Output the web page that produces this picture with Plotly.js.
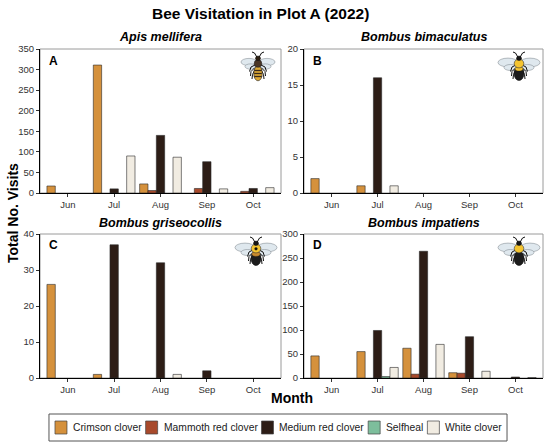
<!DOCTYPE html>
<html>
<head>
<meta charset="utf-8">
<script src="https://cdn.plot.ly/plotly-3.0.1.min.js"></script>
<style>html,body{margin:0;padding:0;background:#fff;}#chart{width:550px;height:445px;}</style>
</head>
<body>
<div id="chart"></div>
<script>
// ---------- data ----------
const months = ['Jun', 'Jul', 'Aug', 'Sep', 'Oct'];
const flowers = ['Crimson clover', 'Mammoth red clover', 'Medium red clover', 'Selfheal', 'White clover'];
const flowerColors = ['#D5913C', '#A84A2C', '#2D1D16', '#7DBE9C', '#F1ECE2'];

const panelTitles = ['Apis mellifera', 'Bombus bimaculatus', 'Bombus griseocollis', 'Bombus impatiens'];
const panelLetters = ['A', 'B', 'C', 'D'];
const yMax = [350, 20, 40, 300];
const yStep = [50, 5, 10, 50];

// Apis mellifera
const apisCrimson  = [17, 311, 22, null, null];
const apisMammoth  = [null, null, 6, 11, 4];
const apisMedium   = [null, 10, 140, 76, 11];
const apisSelfheal = [null, null, null, null, null];
const apisWhite    = [null, 90, 87, 10, 13];

// Bombus bimaculatus
const bimCrimson  = [2, 1, null, null, null];
const bimMammoth  = [null, null, null, null, null];
const bimMedium   = [null, 16, null, null, null];
const bimSelfheal = [null, null, null, null, null];
const bimWhite    = [null, 1, null, null, null];

// Bombus griseocollis
const griCrimson  = [26, 1, null, null, null];
const griMammoth  = [null, null, null, null, null];
const griMedium   = [null, 37, 32, 2, null];
const griSelfheal = [null, null, null, null, null];
const griWhite    = [null, null, 1, null, null];

// Bombus impatiens
const impCrimson  = [46, 55, 62, 11, null];
const impMammoth  = [null, null, 8, 10, null];
const impMedium   = [null, 99, 264, 86, 2];
const impSelfheal = [null, 3, null, null, null];
const impWhite    = [null, 22, 70, 14, 1];

const panelSeries = [
  [apisCrimson, apisMammoth, apisMedium, apisSelfheal, apisWhite],
  [bimCrimson, bimMammoth, bimMedium, bimSelfheal, bimWhite],
  [griCrimson, griMammoth, griMedium, griSelfheal, griWhite],
  [impCrimson, impMammoth, impMedium, impSelfheal, impWhite]
];

// ---------- layout helpers (pixels -> paper) ----------
const W = 550, H = 445;
const px = v => v / W;
const py = v => 1 - v / H;
const FONT = 'Liberation Sans, Arial, sans-serif';

// panel boxes in pixels [left, right, top, bottom]
const boxes = [
  [40, 281, 49, 193],
  [304, 543, 49, 193],
  [40, 281, 234, 378],
  [304, 543, 234, 378]
];

const traces = [];
const layout = {
  width: W, height: H,
  margin: {l: 0, r: 0, t: 0, b: 0},
  paper_bgcolor: '#ffffff',
  plot_bgcolor: 'rgba(0,0,0,0)',
  barmode: 'group',
  bargap: 0.1,
  bargroupgap: 0,
  showlegend: false,
  annotations: [],
  shapes: []
};

panelSeries.forEach((series, p) => {
  const sfx = p === 0 ? '' : String(p + 1);
  const b = boxes[p];
  series.forEach((vals, f) => {
    traces.push({
      type: 'bar',
      name: flowers[f],
      x: months,
      y: vals,
      xaxis: 'x' + sfx,
      yaxis: 'y' + sfx,
      marker: {color: flowerColors[f], line: {color: '#2a2a2a', width: 0.6}},
      showlegend: false,
      hoverinfo: 'x+y+name'
    });
  });
  layout['xaxis' + sfx] = {
    domain: [px(b[0]), px(b[1])],
    anchor: 'y' + sfx,
    type: 'category',
    categoryorder: 'array',
    categoryarray: months,
    range: [-0.6, 4.6],
    showline: true, linecolor: '#000', linewidth: 1,
    ticks: 'outside', ticklen: 3, tickcolor: '#333', tickwidth: 1,
    tickfont: {family: FONT, size: 9.5, color: '#333'},
    showgrid: false, zeroline: false, fixedrange: true
  };
  layout['yaxis' + sfx] = {
    domain: [py(b[3]), py(b[2])],
    anchor: 'x' + sfx,
    range: [0, yMax[p]],
    dtick: yStep[p], tick0: 0,
    showline: true, linecolor: '#000', linewidth: 1,
    ticks: 'outside', ticklen: 3, tickcolor: '#333', tickwidth: 1,
    tickfont: {family: FONT, size: 9.5, color: '#333'},
    showgrid: false, zeroline: false, fixedrange: true
  };
  // panel border
  layout.shapes.push({
    type: 'rect', xref: 'paper', yref: 'paper', layer: 'below',
    x0: px(b[0]), x1: px(b[1]), y0: py(b[3]), y1: py(b[2]),
    line: {color: '#9a9a9a', width: 1}, fillcolor: 'rgba(0,0,0,0)'
  });
  // panel title
  layout.annotations.push({
    xref: 'paper', yref: 'paper', x: px((b[0] + b[1]) / 2), y: py(b[2] - 11.5),
    xanchor: 'center', yanchor: 'middle', showarrow: false,
    text: '<b><i>' + panelTitles[p] + '</i></b>',
    font: {family: FONT, size: 12.5, color: '#000'}
  });
  // panel letter
  layout.annotations.push({
    xref: 'paper', yref: 'paper', x: px(b[0] + 7), y: py(b[2] + 11.5),
    xanchor: 'left', yanchor: 'middle', showarrow: false,
    text: '<b>' + panelLetters[p] + '</b>',
    font: {family: FONT, size: 12, color: '#000'}
  });
});

// ---------- bee icons (decorative) ----------
function ell(cx, cy, rx, ry, fill, line, lw) {
  return {type: 'circle', xref: 'paper', yref: 'paper', layer: 'above',
    x0: px(cx - rx), x1: px(cx + rx), y0: py(cy + ry), y1: py(cy - ry),
    fillcolor: fill, line: {color: line, width: lw}};
}
function poly(pts, color, lw) {
  const d = pts.map((q, i) => (i ? 'L' : 'M') + px(q[0]) + ',' + py(q[1])).join(' ');
  return {type: 'path', xref: 'paper', yref: 'paper', layer: 'above', path: d,
    line: {color: color, width: lw}};
}
function bee(cx, top, kind) {
  const s = [];
  const y = v => top + v;
  const honey = kind === 'honey';
  // wings
  const wf = '#dfe8ee', wl = '#8a9298';
  if (honey) {
    s.push(ell(cx - 9, y(10), 8, 3.6, wf, wl, 0.6));
    s.push(ell(cx + 9, y(10), 8, 3.6, wf, wl, 0.6));
    s.push(ell(cx - 7.5, y(14.5), 5.5, 2.6, wf, wl, 0.6));
    s.push(ell(cx + 7.5, y(14.5), 5.5, 2.6, wf, wl, 0.6));
  } else {
    s.push(ell(cx - 11, y(10.5), 10, 4.4, wf, wl, 0.6));
    s.push(ell(cx + 11, y(10.5), 10, 4.4, wf, wl, 0.6));
    s.push(ell(cx - 8.5, y(15.5), 6.5, 3, wf, wl, 0.6));
    s.push(ell(cx + 8.5, y(15.5), 6.5, 3, wf, wl, 0.6));
  }
  // legs and antennae
  [-1, 1].forEach(sg => {
    s.push(poly([[cx + sg * 3, y(13)], [cx + sg * 7, y(15)], [cx + sg * 8.5, y(19.5)]], '#111', 1));
    s.push(poly([[cx + sg * 3, y(15.5)], [cx + sg * 7, y(19.5)], [cx + sg * 7.5, y(24)]], '#111', 1));
    s.push(poly([[cx + sg * 3, y(17.5)], [cx + sg * 5.5, y(22.5)], [cx + sg * 6, y(27)]], '#111', 1));
    s.push(poly([[cx + sg * 1.2, y(5)], [cx + sg * 3.5, y(1)], [cx + sg * 6, y(0)]], '#111', 1));
  });
  // abdomen
  if (honey) {
    s.push(ell(cx, y(21.5), 4.3, 7.3, '#DDA936', '#222', 0.6));
    [18.5, 21.5, 24.5].forEach(v => s.push(poly([[cx - 3.8, y(v)], [cx + 3.8, y(v)]], '#3a2a1a', 1.3)));
  } else if (kind === 'bim') {
    s.push(ell(cx, y(21.5), 5, 7, '#1c1c1c', '#111', 0.6));
    s.push(ell(cx, y(16.8), 4, 2.3, '#F4C430', '#111', 0.4));
  } else if (kind === 'gri') {
    s.push(ell(cx, y(21.5), 5, 7, '#1c1c1c', '#111', 0.6));
    s.push(ell(cx, y(17), 4.2, 2.4, '#C98A2E', '#111', 0.4));
  } else {
    s.push(ell(cx, y(21.5), 5, 7, '#1c1c1c', '#111', 0.6));
  }
  // thorax
  if (honey) {
    s.push(ell(cx, y(11.5), 3.8, 3.8, '#4a3626', '#222', 0.6));
  } else {
    s.push(ell(cx, y(11.5), 4.8, 4.4, '#F4C430', '#333', 0.6));
    if (kind === 'gri') s.push(ell(cx, y(11.8), 1.4, 1.4, '#111', '#111', 0.3));
  }
  // head
  s.push(ell(cx, y(6.3), 2.5, 2.3, honey ? '#2d2013' : '#151515', '#111', 0.5));
  return s;
}
layout.shapes.push(...bee(258, 52, 'honey'));
layout.shapes.push(...bee(519, 52, 'bim'));
layout.shapes.push(...bee(256, 237, 'gri'));
layout.shapes.push(...bee(519, 237, 'imp'));

// ---------- global titles ----------
layout.annotations.push({
  xref: 'paper', yref: 'paper', x: px(260), y: py(14), xanchor: 'center', yanchor: 'middle',
  showarrow: false, text: '<b>Bee Visitation in Plot A (2022)</b>',
  font: {family: FONT, size: 15.5, color: '#000'}
});
layout.annotations.push({
  xref: 'paper', yref: 'paper', x: px(13), y: py(213), xanchor: 'center', yanchor: 'middle',
  showarrow: false, textangle: -90, text: '<b>Total No. Visits</b>',
  font: {family: FONT, size: 14, color: '#000'}
});
layout.annotations.push({
  xref: 'paper', yref: 'paper', x: px(292), y: py(398), xanchor: 'center', yanchor: 'middle',
  showarrow: false, text: '<b>Month</b>',
  font: {family: FONT, size: 14, color: '#000'}
});

// ---------- legend (built from flowers / flowerColors) ----------
(function () {
  const fs = 10.3;
  const ctx = document.createElement('canvas').getContext('2d');
  ctx.font = fs + 'px "Liberation Sans", Arial, sans-serif';
  const sw = 12, gapST = 5, gapItem = 5, pad = 6;
  const widths = flowers.map(t => ctx.measureText(t).width);
  let total = 0;
  widths.forEach((w, i) => { total += sw + gapST + w + (i < widths.length - 1 ? gapItem : 0); });
  const centerX = 278, cy = 427.5;
  let x = centerX - total / 2;
  layout.shapes.push({
    type: 'rect', xref: 'paper', yref: 'paper', layer: 'above',
    x0: px(x - pad), x1: px(x + total + pad), y0: py(441), y1: py(414),
    line: {color: '#555', width: 1}, fillcolor: 'rgba(0,0,0,0)'
  });
  flowers.forEach((t, i) => {
    layout.shapes.push({
      type: 'rect', xref: 'paper', yref: 'paper', layer: 'above',
      x0: px(x), x1: px(x + sw), y0: py(cy + 6.5), y1: py(cy - 6.5),
      fillcolor: flowerColors[i], line: {color: '#444', width: 0.7}
    });
    layout.annotations.push({
      xref: 'paper', yref: 'paper', x: px(x + sw + gapST - 1), y: py(cy), xanchor: 'left', yanchor: 'middle',
      showarrow: false, text: t, font: {family: FONT, size: fs, color: '#1a1a1a'}
    });
    x += sw + gapST + widths[i] + gapItem;
  });
})();

Plotly.newPlot('chart', traces, layout, {staticPlot: true, displayModeBar: false});
</script>
</body>
</html>
